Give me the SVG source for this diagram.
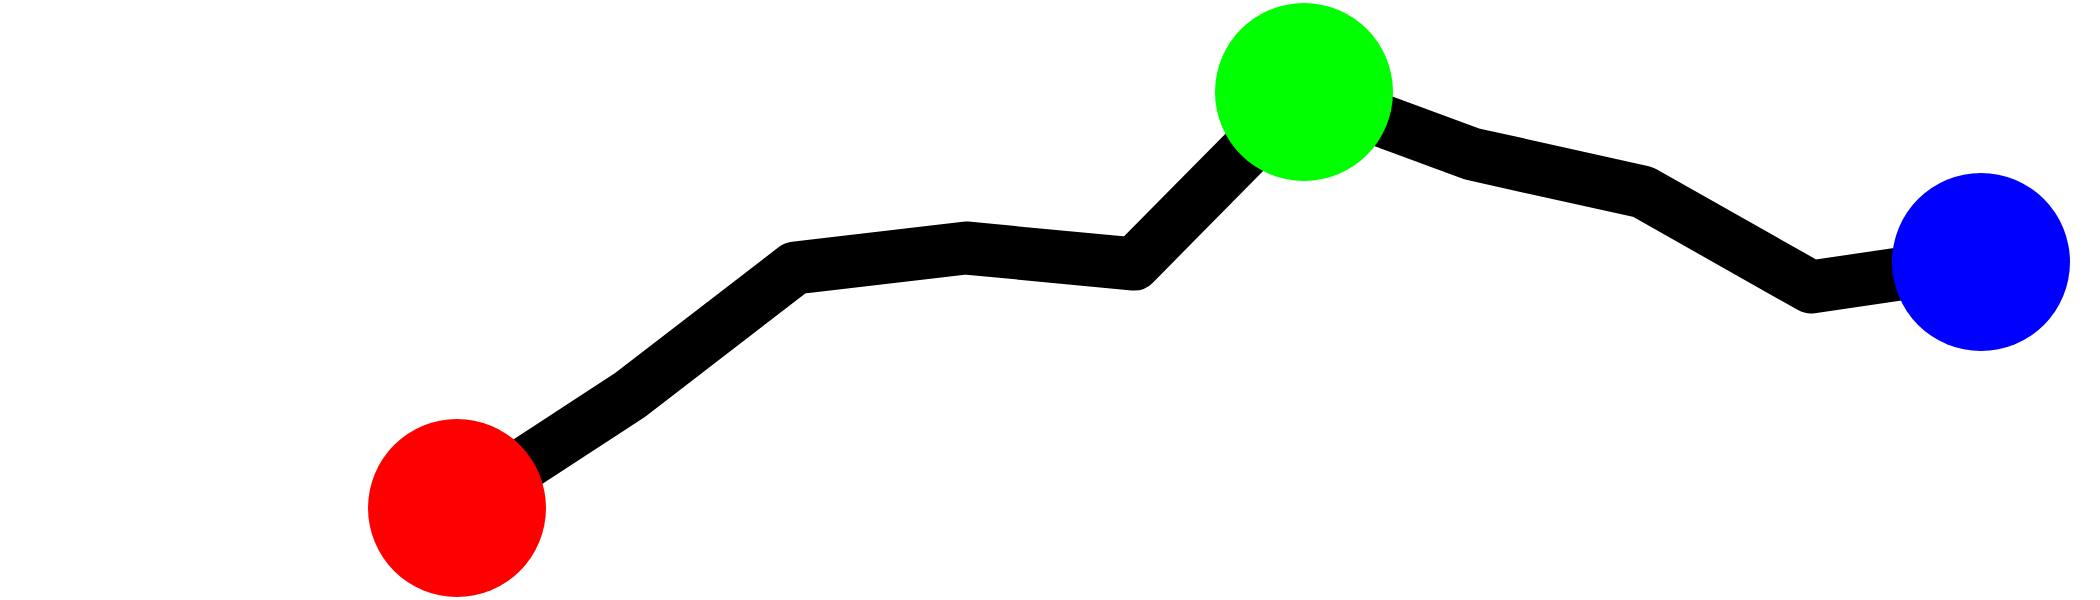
<svg xmlns="http://www.w3.org/2000/svg" width="2100" height="600" viewBox="0 0 2100 600">
  <style>
    .edge { fill: none; stroke: #000000; stroke-width: 53; stroke-linejoin: round; stroke-linecap: round; }
    .node { stroke: none; }
  </style>
  <rect x="0" y="0" width="2100" height="600" fill="#ffffff"/>
  <g id="connectors">
    <path class="edge" d="M457,508 L630,395 L795,268 L966,248 L1134,264 L1304,92"/>
    <path class="edge" d="M1304,92 L1472,154 L1643,192 L1811,287 L1981,262"/>
  </g>
  <g id="node-red">
    <circle class="node" cx="457" cy="508" r="89" fill="#ff0000"/>
  </g>
  <g id="node-green">
    <circle class="node" cx="1304" cy="92" r="89" fill="#00ff00"/>
  </g>
  <g id="node-blue">
    <circle class="node" cx="1981" cy="262" r="89" fill="#0000ff"/>
  </g>
</svg>
